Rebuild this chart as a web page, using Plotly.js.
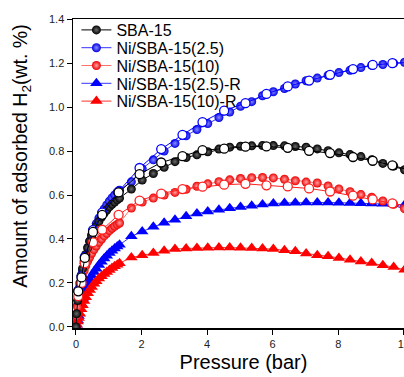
<!DOCTYPE html>
<html>
<head>
<meta charset="utf-8">
<script src="https://cdn.plot.ly/plotly-3.0.1.min.js"></script>
<style>
html,body{margin:0;padding:0;overflow:hidden;background:#fff;}
#chart{width:420px;height:377px;}
</style>
</head>
<body>
<div id="chart"></div>
<script>
// Pressure grid, dense low-pressure region (bar)
const pLow = [0, 0.02, 0.05, 0.08, 0.12, 0.16, 0.2, 0.25, 0.3, 0.36, 0.42, 0.48, 0.55, 0.62, 0.7, 0.78, 0.86, 0.94, 1.02, 1.1, 1.18, 1.26, 1.33];
// Pressure grid, spaced high-pressure region (bar)
const pHigh = [1.69, 2.02, 2.36, 2.69, 3.02, 3.36, 3.69, 4.02, 4.36, 4.69, 5.02, 5.36, 5.69, 6.02, 6.36, 6.69, 7.02, 7.36, 7.69, 8.02, 8.36, 8.69, 9.02, 9.36, 9.69, 10.02];

// SBA-15 adsorption
const sbaLow = [0, 0.06, 0.12, 0.16, 0.2, 0.235, 0.265, 0.3, 0.33, 0.36, 0.39, 0.415, 0.437, 0.457, 0.48, 0.5, 0.517, 0.532, 0.546, 0.558, 0.568, 0.578, 0.586];
const sbaHigh = [0.627, 0.668, 0.698, 0.726, 0.752, 0.771, 0.783, 0.797, 0.809, 0.818, 0.822, 0.824, 0.825, 0.825, 0.824, 0.821, 0.818, 0.81, 0.802, 0.792, 0.784, 0.775, 0.76, 0.744, 0.732, 0.715];
// Ni/SBA-15(2.5) adsorption
const ni25Low = [0, 0.05, 0.1, 0.14, 0.185, 0.22, 0.255, 0.29, 0.325, 0.36, 0.39, 0.418, 0.445, 0.47, 0.495, 0.517, 0.537, 0.555, 0.572, 0.587, 0.6, 0.612, 0.622];
const ni25High = [0.66, 0.72, 0.76, 0.8, 0.835, 0.87, 0.898, 0.925, 0.953, 0.978, 1.004, 1.025, 1.052, 1.07, 1.085, 1.105, 1.12, 1.132, 1.145, 1.157, 1.168, 1.18, 1.19, 1.194, 1.2, 1.204];
// Ni/SBA-15(10) adsorption
const ni10Low = [0, 0.05, 0.09, 0.125, 0.16, 0.195, 0.225, 0.255, 0.278, 0.3, 0.318, 0.335, 0.352, 0.368, 0.385, 0.4, 0.414, 0.426, 0.438, 0.449, 0.458, 0.466, 0.473];
const ni10High = [0.541, 0.568, 0.586, 0.6, 0.612, 0.626, 0.64, 0.651, 0.661, 0.669, 0.675, 0.679, 0.68, 0.678, 0.672, 0.665, 0.659, 0.655, 0.641, 0.628, 0.615, 0.602, 0.59, 0.573, 0.558, 0.538];
// Ni/SBA-15(2.5)-R
const ni25RLow = [0, 0.01, 0.03, 0.05, 0.08, 0.105, 0.13, 0.155, 0.177, 0.198, 0.216, 0.233, 0.25, 0.265, 0.282, 0.297, 0.311, 0.324, 0.336, 0.347, 0.357, 0.366, 0.374];
const ni25RHigh = [0.412, 0.434, 0.456, 0.474, 0.488, 0.503, 0.516, 0.525, 0.533, 0.54, 0.546, 0.551, 0.557, 0.561, 0.564, 0.565, 0.566, 0.566, 0.566, 0.565, 0.564, 0.563, 0.562, 0.56, 0.558, 0.555];
// Ni/SBA-15(10)-R
const ni10RLow = [0, 0.01, 0.025, 0.04, 0.06, 0.08, 0.098, 0.118, 0.135, 0.153, 0.168, 0.182, 0.196, 0.208, 0.22, 0.231, 0.241, 0.25, 0.259, 0.268, 0.276, 0.283, 0.29];
const ni10RHigh = [0.316, 0.326, 0.336, 0.347, 0.354, 0.357, 0.359, 0.36, 0.361, 0.361, 0.36, 0.359, 0.357, 0.354, 0.349, 0.344, 0.334, 0.326, 0.321, 0.314, 0.306, 0.298, 0.291, 0.281, 0.272, 0.26];

// Desorption branches (open circles)
const pDes = [0.07, 0.17, 0.27, 0.52, 0.8, 1.3, 1.94, 2.6, 3.25, 3.86, 4.52, 5.17, 5.81, 6.46, 7.11, 7.75, 8.45, 9.05, 9.65, 10.25];
const sbaDes = [0.162, 0.225, 0.314, 0.432, 0.51, 0.612, 0.695, 0.748, 0.777, 0.804, 0.811, 0.82, 0.821, 0.815, 0.801, 0.791, 0.773, 0.756, 0.735, 0.71];
const ni25Des = [0.165, 0.23, 0.318, 0.44, 0.52, 0.616, 0.723, 0.809, 0.874, 0.932, 0.984, 1.018, 1.06, 1.094, 1.121, 1.147, 1.173, 1.192, 1.2, 1.205];
const ni10Des = [0.14, 0.2, 0.29, 0.385, 0.442, 0.51, 0.575, 0.606, 0.627, 0.638, 0.647, 0.651, 0.644, 0.639, 0.63, 0.616, 0.597, 0.58, 0.562, 0.545];

const names = ['SBA-15', 'Ni/SBA-15(2.5)', 'Ni/SBA-15(10)', 'Ni/SBA-15(2.5)-R', 'Ni/SBA-15(10)-R'];
const xTicks = [0, 2, 4, 6, 8, 10];
const yTicks = [0, 0.2, 0.4, 0.6, 0.8, 1.0, 1.2, 1.4];
const yTickText = ['0.0', '0.2', '0.4', '0.6', '0.8', '1.0', '1.2', '1.4'];

const FONT = 'Arial, "Liberation Sans", sans-serif';

function ads(name, low, high, color, lineColor, symbol, size, grad, rank) {
  const m = {symbol: symbol, size: size, color: color, line: {width: 0}};
  if (grad) m.gradient = {type: 'radial', color: grad};
  return {
    type: 'scatter', mode: 'lines+markers', name: name, legendrank: rank,
    x: pLow.concat(pHigh), y: low.concat(high),
    line: {color: lineColor, width: 1},
    marker: m
  };
}
function des(name, ys, color) {
  return {
    type: 'scatter', mode: 'lines+markers', name: name + ' des', showlegend: false,
    x: pDes, y: ys,
    line: {color: color, width: 1},
    marker: {symbol: 'circle', size: 9, color: '#ffffff', line: {color: color, width: 1.3}}
  };
}

const data = [
  ads(names[3], ni25RLow, ni25RHigh, '#0000ff', '#3333ff', 'triangle-up', 11, null, 4),
  ads(names[4], ni10RLow, ni10RHigh, '#ff0000', '#ff3333', 'triangle-up', 11, null, 5),
  ads(names[1], ni25Low, ni25High, '#0000e6', '#3333ff', 'circle', 9, '#8c8cff', 2),
  ads(names[2], ni10Low, ni10High, '#ee0000', '#ff7070', 'circle', 9, '#ffa0a0', 3),
  ads(names[0], sbaLow, sbaHigh, '#000000', '#000000', 'circle', 9, '#6a6a6a', 1),
  des(names[1], ni25Des, '#0000ff'),
  des(names[2], ni10Des, '#ff2020'),
  des(names[0], sbaDes, '#000000')
];

const layout = {
  width: 420, height: 377,
  margin: {l: 73, r: 6, t: 19, b: 49},
  paper_bgcolor: '#ffffff', plot_bgcolor: '#ffffff',
  font: {family: FONT, color: '#000'},
  showlegend: true,
  legend: {x: 0.01, y: 1, xanchor: 'left', yanchor: 'top', bgcolor: 'rgba(0,0,0,0)',
           font: {size: 16, family: FONT}, tracegroupgap: 0, itemwidth: 30},
  xaxis: {
    range: [-0.09, 10.31], tickvals: xTicks, ticktext: xTicks.map(String),
    ticks: 'outside', ticklen: 5, tickwidth: 1, tickcolor: '#000',
    showline: true, linecolor: '#000', linewidth: 1.5, mirror: true,
    showgrid: false, zeroline: false,
    tickfont: {size: 11, color: '#222'},
    title: {text: 'Pressure (bar)', font: {size: 20}, standoff: 6}
  },
  yaxis: {
    range: [-0.005, 1.401], tickvals: yTicks, ticktext: yTickText,
    ticks: 'outside', ticklen: 5, tickwidth: 1, tickcolor: '#000',
    showline: true, linecolor: '#000', linewidth: 1.5, mirror: true,
    showgrid: false, zeroline: false,
    tickfont: {size: 11, color: '#222'}
  },
  annotations: [{
    text: 'Amount of adsorbed H<sub>2</sub>(wt. %)', textangle: -90,
    xref: 'paper', yref: 'paper', x: -0.152, y: 0.555, xanchor: 'center', yanchor: 'middle',
    showarrow: false, font: {size: 19.5, family: FONT, color: '#000'}
  }]
};

Plotly.newPlot('chart', data, layout, {displayModeBar: false, staticPlot: true}).then(function (gd) {
  // tighten legend row spacing to match the reference
  const items = Array.from(gd.querySelectorAll('.legend .traces'));
  const parse = el => {
    const t = el.getAttribute('transform') || '';
    const m = /translate\(([-\d.]+)[ ,]+([-\d.]+)\)/.exec(t);
    return m ? [parseFloat(m[1]), parseFloat(m[2])] : [0, 0];
  };
  const withPos = items.map(el => ({el: el, p: parse(el)})).sort((a, b) => a.p[1] - b.p[1]);
  if (withPos.length) {
    const y0 = withPos[0].p[1] - 6;
    withPos.forEach((it, i) => {
      it.el.setAttribute('transform', 'translate(' + it.p[0] + ',' + (y0 + i * 17.8) + ')');
    });
  }
});
</script>
</body>
</html>
